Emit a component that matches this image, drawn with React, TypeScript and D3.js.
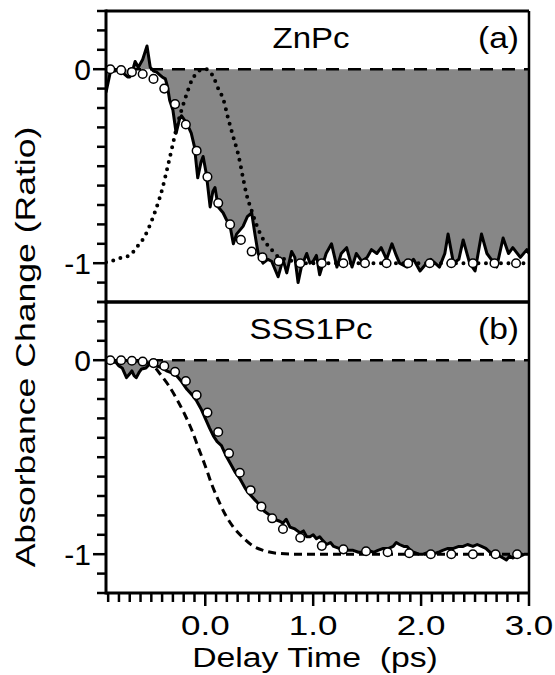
import React from 'react';
import * as d3 from 'd3';

// ---------- data ----------
const xTickLabels = ['0.0', '1.0', '2.0', '3.0'];
const xTickValues = [0, 1, 2, 3];
const yTickLabels = ['0', '-1'];
const yTickValues = [0, -1];

// (a) ZnPc measured data
const znTime = [-0.92, -0.88, -0.84, -0.8, -0.76, -0.72, -0.7, -0.67, -0.65, -0.62, -0.58, -0.54, -0.51, -0.48, -0.45, -0.42, -0.4, -0.37, -0.35, -0.33, -0.3, -0.27, -0.24, -0.22, -0.17, -0.13, -0.1, -0.07, -0.04, -0.02, 0.01, 0.045, 0.07, 0.09, 0.12, 0.165, 0.2, 0.23, 0.26, 0.29, 0.35, 0.39, 0.43, 0.46, 0.49, 0.535, 0.58, 0.615, 0.645, 0.675, 0.72, 0.755, 0.8, 0.83, 0.86, 0.89, 0.94, 0.97, 1.0, 1.03, 1.06, 1.12, 1.17, 1.22, 1.26, 1.31, 1.36, 1.4, 1.45, 1.5, 1.54, 1.59, 1.63, 1.68, 1.73, 1.77, 1.8, 1.87, 1.93, 1.99, 2.05, 2.09, 2.13, 2.17, 2.22, 2.25, 2.3, 2.35, 2.39, 2.45, 2.5, 2.56, 2.61, 2.65, 2.7, 2.76, 2.81, 2.85, 2.92, 2.98, 3.0];
const znSignal = [-0.12, -0.015, -0.01, 0.0, -0.02, -0.04, -0.04, 0.0, 0.04, 0.01, 0.05, 0.12, 0.01, -0.01, -0.015, -0.03, -0.04, -0.05, -0.09, -0.16, -0.21, -0.33, -0.26, -0.24, -0.28, -0.33, -0.4, -0.56, -0.48, -0.45, -0.54, -0.71, -0.63, -0.61, -0.71, -0.74, -0.78, -0.81, -0.9, -0.85, -0.81, -0.76, -0.74, -0.85, -0.95, -1.0, -0.98, -0.99, -1.03, -1.07, -0.98, -1.05, -0.94, -0.97, -1.1, -1.02, -0.95, -1.0, -0.99, -0.96, -1.06, -0.95, -0.9, -1.02, -0.95, -0.92, -1.02, -0.95, -0.99, -0.97, -0.93, -0.95, -0.92, -0.98, -0.9, -0.96, -1.0, -1.02, -0.98, -1.04, -1.0, -0.98, -1.0, -1.02, -0.95, -0.85, -1.0, -0.98, -0.88, -1.0, -1.04, -0.85, -0.95, -0.98, -1.02, -0.87, -0.95, -0.92, -0.97, -0.93, -0.95];
// (a) ZnPc fit (open circles)
const znFitTime = [-0.88, -0.78, -0.68, -0.58, -0.48, -0.38, -0.28, -0.18, -0.08, 0.02, 0.12, 0.23, 0.33, 0.43, 0.53, 0.68, 0.88, 1.08, 1.28, 1.48, 1.68, 1.88, 2.08, 2.28, 2.48, 2.68, 2.88];
const znFit = [0, -0.005, -0.015, -0.025, -0.05, -0.1, -0.18, -0.285, -0.42, -0.555, -0.69, -0.8, -0.88, -0.94, -0.97, -0.99, -1, -1, -1, -1, -1, -1, -1, -1, -1, -1, -1];
// (a) pump pulse (dotted)
const znPulseTime = [-0.92, -0.88, -0.77, -0.7, -0.64, -0.57, -0.51, -0.45, -0.4, -0.36, -0.31, -0.265, -0.22, -0.17, -0.125, -0.08, -0.04, 0.01, 0.04, 0.075, 0.12, 0.17, 0.21, 0.26, 0.31, 0.35, 0.38, 0.43, 0.48, 0.54, 0.6, 0.66, 0.78, 0.9, 3.0];
const znPulse = [-0.995, -0.99, -0.97, -0.96, -0.92, -0.87, -0.8, -0.71, -0.62, -0.53, -0.41, -0.3, -0.21, -0.125, -0.057, -0.02, -0.003, 0, -0.01, -0.04, -0.1, -0.16, -0.25, -0.35, -0.45, -0.56, -0.64, -0.73, -0.81, -0.88, -0.92, -0.96, -0.985, -1, -1];

// (b) SSS1Pc measured data
const sssTime = [-0.92, -0.88, -0.83, -0.8, -0.77, -0.73, -0.7, -0.68, -0.66, -0.64, -0.61, -0.59, -0.55, -0.5, -0.45, -0.4, -0.36, -0.31, -0.265, -0.22, -0.17, -0.12, -0.08, -0.04, 0.0, 0.04, 0.075, 0.11, 0.15, 0.19, 0.23, 0.28, 0.32, 0.37, 0.41, 0.46, 0.51, 0.55, 0.6, 0.64, 0.69, 0.72, 0.75, 0.785, 0.83, 0.88, 0.91, 0.94, 0.97, 1.0, 1.03, 1.06, 1.09, 1.125, 1.16, 1.19, 1.24, 1.28, 1.33, 1.37, 1.42, 1.46, 1.51, 1.56, 1.6, 1.65, 1.7, 1.74, 1.77, 1.8, 1.84, 1.87, 1.9, 1.93, 1.98, 2.02, 2.07, 2.11, 2.16, 2.2, 2.25, 2.3, 2.35, 2.39, 2.43, 2.48, 2.52, 2.56, 2.6, 2.64, 2.69, 2.73, 2.76, 2.79, 2.82, 2.85, 2.88, 2.92, 2.96, 3.0];
const sssSignal = [0, -0.01, -0.01, -0.03, -0.04, -0.09, -0.07, -0.055, -0.08, -0.09, -0.06, -0.045, -0.04, -0.01, -0.03, -0.04, -0.055, -0.065, -0.08, -0.11, -0.15, -0.18, -0.21, -0.25, -0.3, -0.35, -0.39, -0.42, -0.44, -0.49, -0.53, -0.58, -0.61, -0.66, -0.69, -0.72, -0.75, -0.78, -0.8, -0.82, -0.83, -0.84, -0.82, -0.86, -0.87, -0.89, -0.88, -0.91, -0.91, -0.9, -0.92, -0.91, -0.93, -0.95, -0.94, -0.96, -0.97, -0.97, -0.98, -0.98, -0.99, -0.99, -0.98, -0.99, -0.98, -0.97, -0.97, -0.96, -0.94, -0.95, -0.96, -0.96, -0.98, -0.99, -1.0, -1.0, -0.99, -1.0, -0.99, -0.98, -0.97, -0.97, -0.96, -0.96, -0.95, -0.96, -0.95, -0.96, -0.97, -0.99, -1.0, -1.01, -1.02, -1.03, -1.01, -1.02, -1.01, -1.01, -1.0, -1.0];
// (b) SSS1Pc fit (open circles)
const sssFitTime = [-0.88, -0.78, -0.68, -0.58, -0.48, -0.38, -0.28, -0.18, -0.08, 0.02, 0.12, 0.22, 0.32, 0.42, 0.52, 0.62, 0.72, 0.88, 1.08, 1.28, 1.49, 1.69, 1.89, 2.09, 2.28, 2.48, 2.69, 2.89];
const sssFit = [0, 0, -0.003, -0.007, -0.015, -0.03, -0.06, -0.107, -0.18, -0.27, -0.37, -0.48, -0.58, -0.67, -0.755, -0.815, -0.87, -0.915, -0.957, -0.975, -0.985, -0.99, -0.995, -1, -1, -1, -1, -1];
// (b) instrument-limited response (dashed)
const sssRefTime = [-0.92, -0.6, -0.48, -0.42, -0.34, -0.265, -0.19, -0.125, -0.065, 0.0, 0.06, 0.12, 0.18, 0.26, 0.35, 0.44, 0.535, 0.66, 0.85, 3.0];
const sssRef = [0, -0.005, -0.03, -0.07, -0.13, -0.2, -0.28, -0.36, -0.45, -0.545, -0.64, -0.72, -0.79, -0.86, -0.915, -0.957, -0.98, -0.995, -1, -1];

const panelTitles = ['ZnPc', 'SSS1Pc'];
const panelLetters = ['(a)', '(b)'];

// ---------- layout ----------
const W = 555, H = 675;
const L = 106, R = 529;
const panelTops = [11, 302];
const panelH = 291;
const FONT = '"Liberation Sans", Arial, Helvetica, sans-serif';
const GRAY = '#878787';

const x = d3.scaleLinear().domain([-0.92, 3.0]).range([L, R]);

type Pt = [number, number];
const zip = (a: number[], b: number[]): Pt[] => a.map((t, i) => [t, b[i]]);

function Panel({ idx }: { idx: number }) {
  const top = panelTops[idx];
  const bottom = top + panelH;
  const y = d3.scaleLinear().domain([-1.2, 0.3]).range([bottom, top]);
  const data = idx === 0 ? zip(znTime, znSignal) : zip(sssTime, sssSignal);
  const fit = idx === 0 ? zip(znFitTime, znFit) : zip(sssFitTime, sssFit);
  const ref = idx === 0 ? zip(znPulseTime, znPulse) : zip(sssRefTime, sssRef);

  const area = d3.area<Pt>().x(d => x(d[0])).y0(y(0)).y1(d => y(d[1]));
  const line = d3.line<Pt>().x(d => x(d[0])).y(d => y(d[1]));
  const smooth = d3.line<Pt>().x(d => x(d[0])).y(d => y(d[1])).curve(d3.curveMonotoneX);
  const clipId = `clip${idx}`;

  const yTicks = d3.range(-12, 4).map(i => i / 10);

  return (
    <g>
      <defs>
        <clipPath id={clipId}>
          <rect x={L} y={top} width={R - L} height={panelH} />
        </clipPath>
      </defs>
      <g clipPath={`url(#${clipId})`}>
        <path d={area(data) || ''} fill={GRAY} />
        <line x1={L} x2={R} y1={y(0)} y2={y(0)} stroke="#000" strokeWidth={2.5} strokeDasharray="13 9" />
        {idx === 0 ? (
          <path d={smooth(ref) || ''} fill="none" stroke="#000" strokeWidth={4} strokeLinecap="round" strokeDasharray="0 7.5" />
        ) : (
          <path d={smooth(ref) || ''} fill="none" stroke="#000" strokeWidth={3} strokeDasharray="8 5" />
        )}
        <path d={line(data) || ''} fill="none" stroke="#000" strokeWidth={3} strokeLinejoin="round" />
        {fit.map((d, i) => (
          <circle key={i} cx={x(d[0])} cy={y(d[1])} r={4.3} fill="#fff" stroke="#000" strokeWidth={1.5} />
        ))}
      </g>
      {/* frame */}
      <line x1={L} x2={R} y1={top} y2={top} stroke="#000" strokeWidth={3} />
      <line x1={L} x2={R} y1={bottom} y2={bottom} stroke="#000" strokeWidth={3} />
      <line x1={R} x2={R} y1={top} y2={bottom} stroke="#000" strokeWidth={2.5} />
      <line x1={L} x2={L} y1={top - 1.5} y2={bottom + 1.5} stroke="#000" strokeWidth={3} />
      {/* y ticks */}
      {yTicks.map((v, i) => {
        const major = Math.abs(v) < 1e-9 || Math.abs(v + 1) < 1e-9;
        return (
          <line key={i} x1={L - (major ? 13 : 9)} x2={L} y1={y(v)} y2={y(v)} stroke="#000" strokeWidth={2.5} />
        );
      })}
      {yTickValues.map((v, i) => (
        <text key={i} x={91} y={y(v) + 11} textAnchor="end" fontFamily={FONT} fontSize={30} fill="#000">
          {yTickLabels[i]}
        </text>
      ))}
      {/* titles */}
      <text transform={`translate(311,${top + 37}) scale(1.1,1)`} textAnchor="middle" fontFamily={FONT} fontSize={30} fill="#000">
        {panelTitles[idx]}
      </text>
      <text transform={`translate(519,${top + 37}) scale(1.12,1)`} textAnchor="end" fontFamily={FONT} fontSize={30} fill="#000">
        {panelLetters[idx]}
      </text>
    </g>
  );
}

export default function App() {
  const xMinor = d3.range(-9, 31).map(i => i / 10);
  const axisY = panelTops[1] + panelH;
  return (
    <svg width={W} height={H} style={{ position: 'absolute', left: 0, top: 0, background: '#fff' }}>
      <rect x={0} y={0} width={W} height={H} fill="#fff" />
      <Panel idx={0} />
      <Panel idx={1} />
      {/* x ticks */}
      {xMinor.map((v, i) => {
        const major = Math.abs(v - Math.round(v)) < 1e-9 && v >= 0;
        return (
          <line key={i} x1={x(v)} x2={x(v)} y1={axisY} y2={axisY + (major ? 13 : 9)} stroke="#000" strokeWidth={2.5} />
        );
      })}
      {xTickValues.map((v, i) => (
        <text key={i} transform={`translate(${x(v)},635) scale(1.25,1)`} textAnchor="middle" fontFamily={FONT} fontSize={28} fill="#000">
          {xTickLabels[i]}
        </text>
      ))}
      <text transform="translate(315,667) scale(1.25,1)" textAnchor="middle" fontFamily={FONT} fontSize={27} fill="#000" style={{ whiteSpace: 'pre' }}>
        {'Delay Time  (ps)'}
      </text>
      <text transform="translate(35,347) rotate(-90) scale(1.27,1)" textAnchor="middle" fontFamily={FONT} fontSize={28} fill="#000">
        Absorbance Change (Ratio)
      </text>
    </svg>
  );
}
